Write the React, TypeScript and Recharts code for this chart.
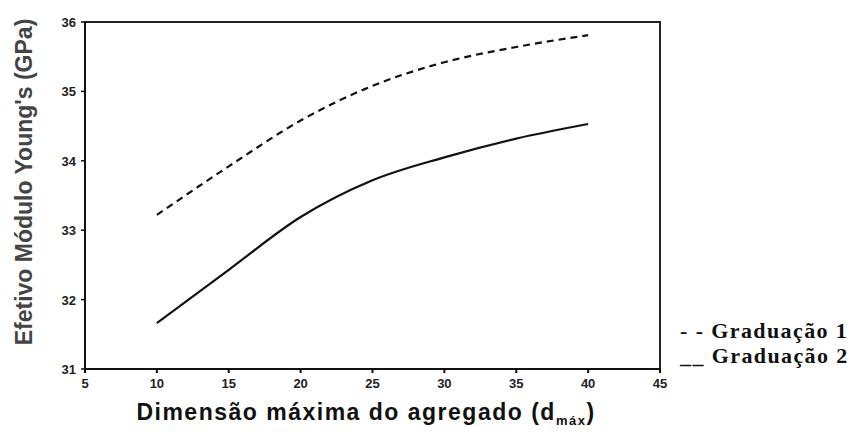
import React from "react";
import { LineChart, Line, XAxis, YAxis, ReferenceArea } from "recharts";

const dmax = [10, 15, 20, 25, 30, 35, 40];
const graduacao1 = [33.22, 33.92, 34.58, 35.08, 35.42, 35.64, 35.81];
const graduacao2 = [31.66, 32.43, 33.19, 33.72, 34.05, 34.32, 34.53];
const xTicks = [5, 10, 15, 20, 25, 30, 35, 40, 45];
const yTicks = [31, 32, 33, 34, 35, 36];

const data = dmax.map((d, i) => ({ d, g1: graduacao1[i], g2: graduacao2[i] }));

const FONT = "Liberation Sans, Arial, sans-serif";

const XTick = (props: any) => {
  const { x, y, payload } = props;
  return (
    <text x={x} y={y + 13} textAnchor="middle" fill="#222" fontSize={13} fontWeight={700} fontFamily={FONT}>
      {payload.value}
    </text>
  );
};

const YTick = (props: any) => {
  const { x, y, payload } = props;
  return (
    <text x={x - 3} y={y + 5} textAnchor="end" fill="#222" fontSize={13} fontWeight={700} fontFamily={FONT}>
      {payload.value}
    </text>
  );
};

const XTitle = (props: any) => {
  return (
    <text x={366} y={420} textAnchor="middle" fill="#111" fontSize={23} fontWeight={700} letterSpacing={1.5}
      fontFamily={FONT}>
      Dimensão máxima do agregado (d<tspan fontSize={13} dy={5}>máx</tspan><tspan dy={-5}>)</tspan>
    </text>
  );
};

const YTitle = (props: any) => {
  return (
    <text x={0} y={0} transform={`translate(32, 182) rotate(-90)`} textAnchor="middle" fill="#444"
      fontSize={23} fontWeight={700} fontFamily={FONT}>
      Efetivo Módulo Young's (GPa)
    </text>
  );
};

export default function App() {
  return (
    <div style={{ position: "absolute", left: 0, top: 0, width: 854, height: 432, background: "#fff" }}>
      <LineChart width={854} height={432} data={data} margin={{ top: 22, right: 194, bottom: 33, left: 25 }}>
        <XAxis dataKey="d" type="number" domain={[5, 45]} ticks={xTicks} interval={0}
          axisLine={{ stroke: "#111", strokeWidth: 2 }} tickLine={{ stroke: "#111", strokeWidth: 2 }} tickSize={4}
          tick={<XTick />} height={30} label={<XTitle />} />
        <YAxis type="number" domain={[31, 36]} ticks={yTicks} interval={0}
          axisLine={{ stroke: "#111", strokeWidth: 2 }} tickLine={{ stroke: "#111", strokeWidth: 1.5 }} tickSize={4}
          tick={<YTick />} width={60} label={<YTitle />} />
        <ReferenceArea x1={5} x2={45} y1={31} y2={36} stroke="#222" strokeWidth={2} fill="none" fillOpacity={0} />
        <Line type="monotone" dataKey="g1" stroke="#111" strokeWidth={2.2}
          strokeDasharray="7 5" dot={false} isAnimationActive={false} />
        <Line type="monotone" dataKey="g2" stroke="#111" strokeWidth={2.2}
          dot={false} isAnimationActive={false} />
      </LineChart>
      <div style={{ position: "absolute", left: 680, top: 318, fontFamily: "Liberation Serif, Times New Roman, serif",
        fontWeight: 700, fontSize: 22, color: "#111", lineHeight: "25px", whiteSpace: "pre", letterSpacing: 1.4 }}>
        <div>{"- - Graduação 1"}</div>
        <div>{"__ Graduação 2"}</div>
      </div>
    </div>
  );
}
